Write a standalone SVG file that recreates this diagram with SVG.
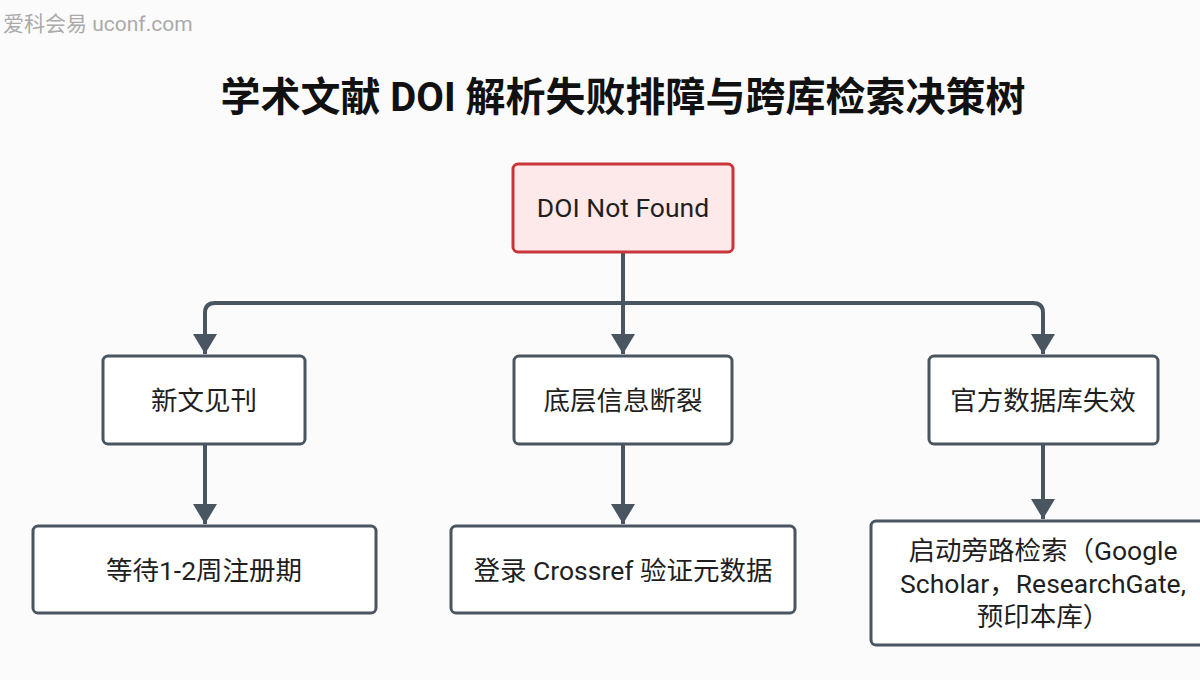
<svg xmlns="http://www.w3.org/2000/svg" width="1200" height="680" viewBox="0 0 1200 680">
<defs>
<marker id="arr" markerUnits="userSpaceOnUse" markerWidth="20" markerHeight="24" viewBox="0 0 20 24" refX="20" refY="12" orient="auto">
<path d="M0,0 L20,12 L0,24 z" fill="#4a5562"/>
</marker>
<style>
text{font-family:Roboto,"Noto Sans CJK SC","Noto Sans",sans-serif;fill:#1f1f1f;text-anchor:middle}
.box{fill:#ffffff;stroke:#4a5562;stroke-width:3}
.root{fill:#fde9e9;stroke:#c9353a;stroke-width:3}
.lbl{font-size:26.5px}
.conn{fill:none;stroke:#4a5562;stroke-width:4}
</style>
</defs>
<rect width="1200" height="680" fill="#fbfbfb"/>
<text x="3" y="31" style="font-size:21px;fill:#aaaaaa;text-anchor:start">爱科会易 uconf.com</text>
<text x="623" y="111" style="font-size:40px;font-weight:bold;fill:#111">学术文献 DOI 解析失败排障与跨库检索决策树</text>
<g id="connectors">
<path class="conn" d="M623,252 V354" marker-end="url(#arr)"/>
<path class="conn" d="M623,303 H215 Q205,303 205,313 V354" marker-end="url(#arr)"/>
<path class="conn" d="M623,303 H1033 Q1043,303 1043,313 V354" marker-end="url(#arr)"/>
<path class="conn" d="M205,444 V524" marker-end="url(#arr)"/>
<path class="conn" d="M623,444 V524" marker-end="url(#arr)"/>
<path class="conn" d="M1043,444 V519" marker-end="url(#arr)"/>
</g>
<g id="root">
<rect class="root" x="513" y="164" width="220" height="88" rx="5"/>
<text class="lbl" x="623" y="217">DOI Not Found</text>
</g>
<g id="n-new">
<rect class="box" x="103" y="356" width="202" height="88" rx="5"/>
<text class="lbl" x="204" y="410">新文见刊</text>
</g>
<g id="n-meta">
<rect class="box" x="514" y="356" width="218" height="88" rx="5"/>
<text class="lbl" x="623" y="410">底层信息断裂</text>
</g>
<g id="n-db">
<rect class="box" x="929" y="356" width="229" height="88" rx="5"/>
<text class="lbl" x="1043" y="410">官方数据库失效</text>
</g>
<g id="n-wait">
<rect class="box" x="33" y="526" width="343" height="87" rx="5"/>
<text class="lbl" x="204" y="580">等待1-2周注册期</text>
</g>
<g id="n-crossref">
<rect class="box" x="451" y="526" width="344" height="87" rx="5"/>
<text class="lbl" x="623" y="580">登录 Crossref 验证元数据</text>
</g>
<g id="n-bypass">
<rect class="box" x="871" y="521" width="344" height="124" rx="5"/>
<text class="lbl" x="1043" y="560">启动旁路检索（Google</text>
<text class="lbl" x="1043" y="593">Scholar，ResearchGate,</text>
<text class="lbl" x="1043" y="626">预印本库）</text>
</g>
</svg>
